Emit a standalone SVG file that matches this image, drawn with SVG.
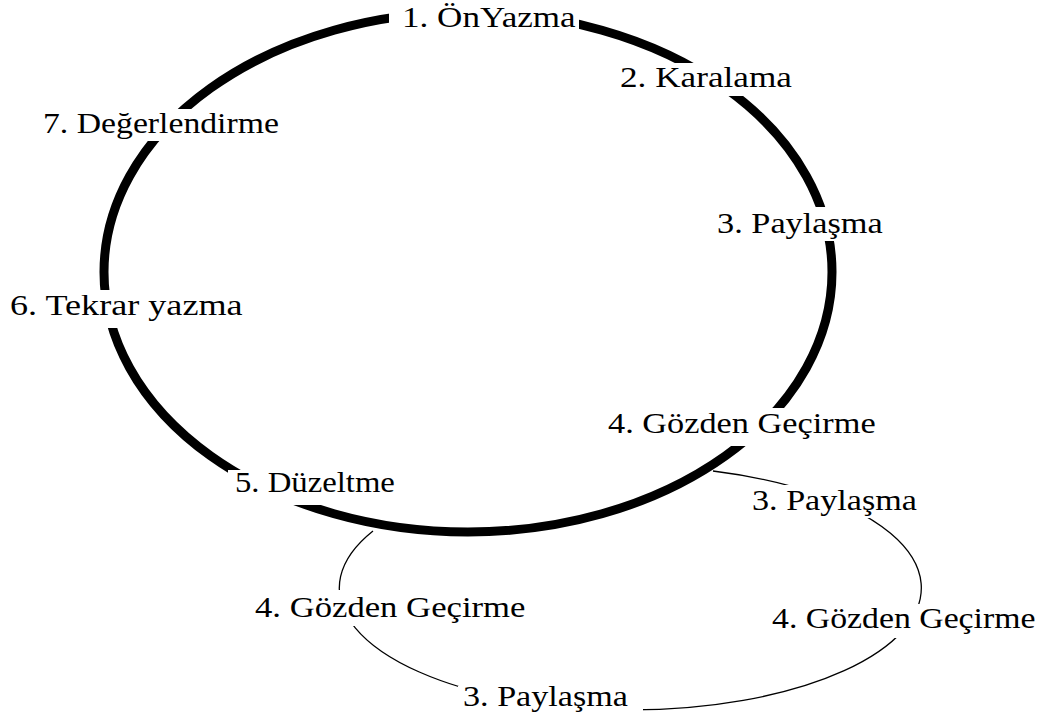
<svg xmlns="http://www.w3.org/2000/svg" width="1043" height="720" viewBox="0 0 1043 720">
<rect width="1043" height="720" fill="#fff"/>
<g id="connectors" fill="none" stroke="#000">
<ellipse cx="468" cy="272" rx="364" ry="260" stroke-width="9"/>
<path d="M 713,471 A 291 122 0 1 1 373,531" stroke-width="1.3"/>
</g>
<g id="labels" font-size="30">
<g id="n1"><rect fill="#fff" x="389" y="0" width="190" height="36"/><text font-family="Liberation Serif" transform="translate(402,27) scale(1.169,1)">1. ÖnYazma</text></g>
<g id="n2"><rect fill="#fff" x="615" y="63" width="182" height="33"/><text font-family="Liberation Serif" transform="translate(620,87) scale(1.173,1)">2. Karalama</text></g>
<g id="n3"><rect fill="#fff" x="712" y="207" width="176" height="34"/><text font-family="Liberation Serif" transform="translate(717,233) scale(1.144,1)">3. Paylaşma</text></g>
<g id="n4"><rect fill="#fff" x="603" y="408" width="277" height="38"/><text font-family="Liberation Serif" transform="translate(608,433) scale(1.1435,1)">4. Gözden Geçirme</text></g>
<g id="n5"><rect fill="#fff" x="228" y="470" width="172" height="35"/><text font-family="Liberation Serif" transform="translate(235,492) scale(1.091,1)">5. Düzeltme</text></g>
<g id="n6"><rect fill="#fff" x="5" y="290" width="243" height="38"/><text font-family="Liberation Serif" transform="translate(10,315) scale(1.205,1)">6. Tekrar yazma</text></g>
<g id="n7"><rect fill="#fff" x="38" y="109" width="245" height="32"/><text font-family="Liberation Serif" transform="translate(43,133) scale(1.124,1)">7. Değerlendirme</text></g>
<g id="s3a"><rect fill="#fff" x="747" y="485" width="175" height="33"/><text font-family="Liberation Serif" transform="translate(752,510) scale(1.138,1)">3. Paylaşma</text></g>
<g id="s4r"><rect fill="#fff" x="767" y="604" width="273" height="34"/><text font-family="Liberation Serif" transform="translate(772,628) scale(1.126,1)">4. Gözden Geçirme</text></g>
<g id="s3b"><rect fill="#fff" x="458" y="686" width="185" height="34"/><text font-family="Liberation Serif" transform="translate(463,706) scale(1.138,1)">3. Paylaşma</text></g>
<g id="s4l"><rect fill="#fff" x="250" y="590" width="280" height="36"/><text font-family="Liberation Serif" transform="translate(255,617) scale(1.156,1)">4. Gözden Geçirme</text></g>
</g>
</svg>
